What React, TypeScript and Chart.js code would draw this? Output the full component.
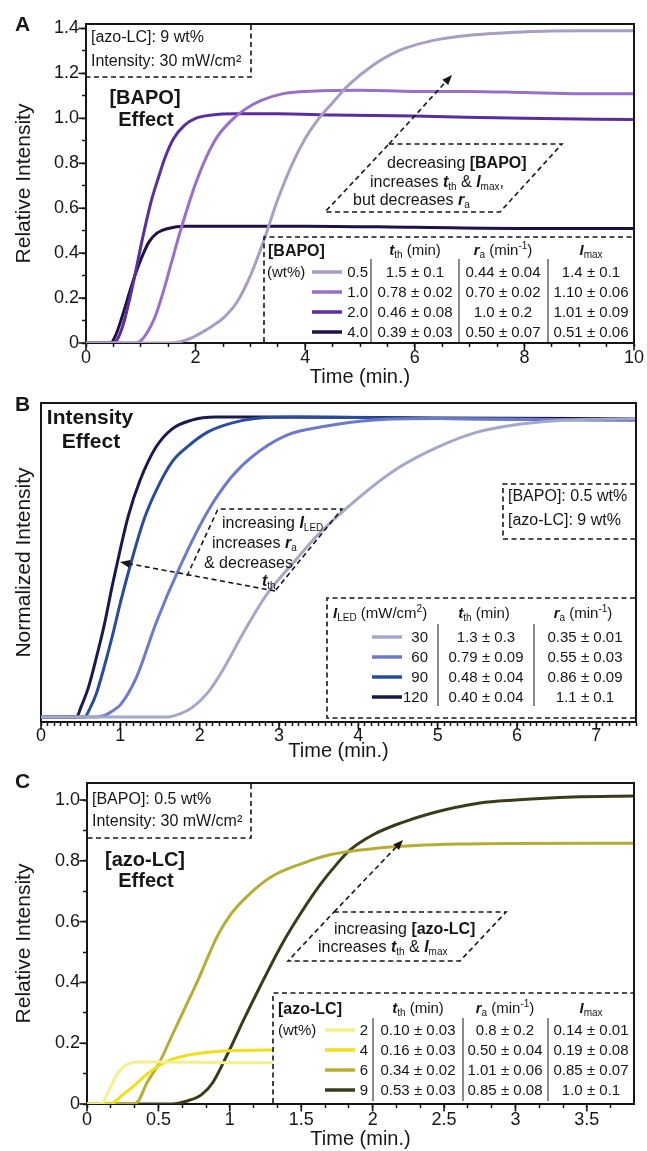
import React, { useEffect, useRef } from 'react';
import { Chart, registerables } from 'chart.js';

Chart.register(...registerables);

const FONT = '"Liberation Sans", Arial, Helvetica, sans-serif';
const INK = '#161616';

// ================= Panel A : [BAPO] effect =================
const bapoLevels = ['0.5', '1.0', '2.0', '4.0'];
const bapoColors = ['#a99dc3', '#9a6ec9', '#5a2da0', '#1f1145'];
const bapo05Time = [0, 1.5, 1.7, 1.9, 2.1, 2.3, 2.5, 2.75, 3.0, 3.25, 3.5, 3.75, 4.0, 4.25, 4.5, 4.8, 5.2, 5.7, 6.3, 7.0, 8.0, 9.0, 10.0];
const bapo05Val = [0, 0, 0.005, 0.02, 0.045, 0.075, 0.11, 0.18, 0.3, 0.46, 0.64, 0.79, 0.91, 1.0, 1.07, 1.15, 1.23, 1.3, 1.345, 1.37, 1.385, 1.39, 1.39];
const bapo10Time = [0, 0.9, 1.0, 1.1, 1.25, 1.4, 1.55, 1.7, 1.85, 2.0, 2.2, 2.4, 2.65, 2.9, 3.2, 3.6, 4.0, 5.0, 6.0, 7.0, 8.0, 9.0, 10.0];
const bapo10Val = [0, 0, 0.01, 0.04, 0.11, 0.22, 0.35, 0.48, 0.6, 0.71, 0.83, 0.92, 0.99, 1.04, 1.08, 1.11, 1.12, 1.125, 1.12, 1.12, 1.115, 1.11, 1.11];
const bapo20Time = [0, 0.5, 0.6, 0.7, 0.8, 0.9, 1.0, 1.1, 1.2, 1.3, 1.45, 1.6, 1.8, 2.0, 2.3, 2.7, 3.5, 4.5, 6.0, 8.0, 10.0];
const bapo20Val = [0, 0, 0.03, 0.1, 0.2, 0.31, 0.43, 0.54, 0.64, 0.72, 0.83, 0.91, 0.97, 1.0, 1.015, 1.02, 1.02, 1.015, 1.01, 1.0, 0.995];
const bapo40Time = [0, 0.45, 0.55, 0.65, 0.75, 0.85, 0.95, 1.05, 1.15, 1.3, 1.5, 1.8, 2.5, 4.0, 6.0, 8.0, 10.0];
const bapo40Val = [0, 0, 0.04, 0.11, 0.19, 0.27, 0.34, 0.4, 0.45, 0.49, 0.51, 0.52, 0.52, 0.52, 0.515, 0.51, 0.51];
const bapoTth = ['1.5 ± 0.1', '0.78 ± 0.02', '0.46 ± 0.08', '0.39 ± 0.03'];
const bapoRa = ['0.44 ± 0.04', '0.70 ± 0.02', '1.0 ± 0.2', '0.50 ± 0.07'];
const bapoImax = ['1.4 ± 0.1', '1.10 ± 0.06', '1.01 ± 0.09', '0.51 ± 0.06'];
const aXMajor = [0, 2, 4, 6, 8, 10];
const aXMinorStep = 0.5;
const aYMajor = [0, 0.2, 0.4, 0.6, 0.8, 1.0, 1.2, 1.4];
const aYMinorStep = 0.1;

// ================= Panel B : intensity effect =================
const ledLevels = ['30', '60', '90', '120'];
const ledColors = ['#a3a8c9', '#6b7bc9', '#2a4c9e', '#181a4f'];
const led30Time = [0, 1.6, 1.75, 1.9, 2.1, 2.3, 2.55, 2.85, 3.2, 3.5, 4.0, 4.5, 5.0, 5.5, 6.0, 6.5, 7.0, 7.5];
const led30Val = [0, 0, 0.01, 0.03, 0.08, 0.16, 0.28, 0.41, 0.52, 0.61, 0.73, 0.83, 0.9, 0.95, 0.975, 0.988, 0.993, 0.995];
const led60Time = [0, 0.7, 0.8, 0.9, 1.0, 1.2, 1.46, 1.75, 2.09, 2.4, 2.67, 3.1, 3.6, 4.2, 5.0, 6.0, 7.5];
const led60Val = [0, 0, 0.005, 0.02, 0.04, 0.13, 0.32, 0.5, 0.68, 0.8, 0.87, 0.94, 0.97, 0.99, 0.995, 0.993, 0.99];
const led90Time = [0, 0.55, 0.62, 0.7, 0.8, 0.9, 1.0, 1.12, 1.3, 1.46, 1.65, 1.84, 2.1, 2.4, 2.7, 3.2, 5.0, 7.5];
const led90Val = [0, 0, 0.03, 0.08, 0.17, 0.27, 0.38, 0.5, 0.66, 0.76, 0.85, 0.9, 0.95, 0.98, 0.995, 1.0, 0.995, 0.99];
const led120Time = [0, 0.45, 0.5, 0.6, 0.7, 0.8, 0.9, 1.0, 1.1, 1.25, 1.45, 1.65, 1.9, 2.2, 3.0, 5.0, 7.5];
const led120Val = [0, 0, 0.03, 0.1, 0.2, 0.31, 0.44, 0.56, 0.67, 0.79, 0.9, 0.96, 0.99, 1.0, 1.0, 0.997, 0.995];
const ledTth = ['1.3 ± 0.3', '0.79 ± 0.09', '0.48 ± 0.04', '0.40 ± 0.04'];
const ledRa = ['0.35 ± 0.01', '0.55 ± 0.03', '0.86 ± 0.09', '1.1 ± 0.1'];
const bXMajor = [0, 1, 2, 3, 4, 5, 6, 7];
const bXMinorStep = 1 / 12;

// ================= Panel C : [azo-LC] effect =================
const azoLevels = ['2', '4', '6', '9'];
const azoColors = ['#f4ef8f', '#efe018', '#b6ae32', '#3b3b1c'];
const azo2Time = [0, 0.1, 0.15, 0.2, 0.25, 0.3, 0.35, 0.5, 1.0, 2.0, 3.83];
const azo2Val = [0, 0, 0.04, 0.09, 0.12, 0.133, 0.138, 0.138, 0.136, 0.135, 0.135];
const azo4Time = [0, 0.17, 0.2, 0.25, 0.32, 0.4, 0.5, 0.6, 0.7, 0.85, 1.0, 1.3, 2.0, 3.83];
const azo4Val = [0, 0, 0.01, 0.03, 0.056, 0.09, 0.125, 0.148, 0.16, 0.17, 0.175, 0.178, 0.18, 0.18];
const azo6Time = [0, 0.32, 0.36, 0.42, 0.5, 0.6, 0.7, 0.77, 0.91, 1.0, 1.16, 1.3, 1.5, 1.7, 2.0, 2.3, 2.6, 3.0, 3.83];
const azo6Val = [0, 0, 0.01, 0.07, 0.13, 0.23, 0.33, 0.4, 0.55, 0.62, 0.7, 0.75, 0.79, 0.82, 0.84, 0.85, 0.855, 0.857, 0.858];
const azo9Time = [0, 0.6, 0.7, 0.8, 0.88, 1.0, 1.1, 1.21, 1.37, 1.5, 1.63, 1.75, 1.84, 2.0, 2.2, 2.4, 2.75, 3.0, 3.4, 3.83];
const azo9Val = [0, 0, 0.01, 0.03, 0.07, 0.18, 0.28, 0.385, 0.53, 0.63, 0.72, 0.79, 0.835, 0.885, 0.925, 0.955, 0.99, 1.0, 1.01, 1.013];
const azoTth = ['0.10 ± 0.03', '0.16 ± 0.03', '0.34 ± 0.02', '0.53 ± 0.03'];
const azoRa = ['0.8 ± 0.2', '0.50 ± 0.04', '1.01 ± 0.06', '0.85 ± 0.08'];
const azoImax = ['0.14 ± 0.01', '0.19 ± 0.08', '0.85 ± 0.07', '1.0 ± 0.1'];
const cXMajor = [0, 0.5, 1, 1.5, 2, 2.5, 3, 3.5];
const cXMinorStep = 1 / 6;
const cYMajor = [0, 0.2, 0.4, 0.6, 0.8, 1.0];
const cYMinorStep = 0.1;

// ================= helpers =================
type Seg = { t: string; b?: boolean; i?: boolean; sub?: boolean; sup?: boolean };
const tth: Seg[] = [{ t: 't', b: true, i: true }, { t: 'th', sub: true }];
const raS: Seg[] = [{ t: 'r', b: true, i: true }, { t: 'a', sub: true }];
const imax: Seg[] = [{ t: 'I', b: true, i: true }, { t: 'max', sub: true }];
const iled: Seg[] = [{ t: 'I', b: true, i: true }, { t: 'LED', sub: true }];

function segFont(s: Seg, size: number) {
  const sz = s.sub || s.sup ? Math.round(size * 0.64) : size;
  return `${s.i ? 'italic ' : ''}${s.b ? 'bold ' : ''}${sz}px ${FONT}`;
}
function rich(ctx: CanvasRenderingContext2D, segs: Seg[], x: number, yc: number, size: number, align = 'left') {
  let w = 0;
  for (const s of segs) { ctx.font = segFont(s, size); w += ctx.measureText(s.t).width; }
  let cx = align === 'left' ? x : align === 'center' ? x - w / 2 : x - w;
  const base = yc + size * 0.36;
  ctx.textAlign = 'left';
  ctx.textBaseline = 'alphabetic';
  ctx.fillStyle = INK;
  for (const s of segs) {
    ctx.font = segFont(s, size);
    const dy = s.sub ? size * 0.2 : s.sup ? -size * 0.42 : 0;
    ctx.fillText(s.t, cx, base + dy);
    cx += ctx.measureText(s.t).width;
  }
}
const P = (t: string): Seg[] => [{ t }];
const B = (t: string): Seg[] => [{ t, b: true }];

function dashPath(ctx: CanvasRenderingContext2D, pts: number[][], close = false) {
  ctx.save();
  ctx.setLineDash([5, 3.5]);
  ctx.lineWidth = 1.6;
  ctx.strokeStyle = INK;
  ctx.beginPath();
  pts.forEach(([x, y], i) => (i ? ctx.lineTo(x, y) : ctx.moveTo(x, y)));
  if (close) ctx.closePath();
  ctx.stroke();
  ctx.restore();
}
function dashArrow(ctx: CanvasRenderingContext2D, x1: number, y1: number, x2: number, y2: number) {
  const a = Math.atan2(y2 - y1, x2 - x1);
  const L = 10, H = 4;
  const bx = x2 - L * Math.cos(a), by = y2 - L * Math.sin(a);
  dashPath(ctx, [[x1, y1], [bx, by]]);
  ctx.save();
  ctx.fillStyle = INK;
  ctx.beginPath();
  ctx.moveTo(x2, y2);
  ctx.lineTo(bx + H * Math.sin(a), by - H * Math.cos(a));
  ctx.lineTo(bx - H * Math.sin(a), by + H * Math.cos(a));
  ctx.closePath();
  ctx.fill();
  ctx.restore();
}
function seg(ctx: CanvasRenderingContext2D, x1: number, y1: number, x2: number, y2: number, w: number, c: string) {
  ctx.save();
  ctx.strokeStyle = c;
  ctx.lineWidth = w;
  ctx.beginPath();
  ctx.moveTo(x1, y1);
  ctx.lineTo(x2, y2);
  ctx.stroke();
  ctx.restore();
}

type RowCfg = {
  rows: number[]; lineX: number[]; labelRight: number; levels: string[]; colors: string[];
  seps: number[]; sepY: number[]; cols: { x: number; vals: string[] }[];
};
function drawRows(ctx: CanvasRenderingContext2D, c: RowCfg) {
  c.rows.forEach((y, i) => {
    seg(ctx, c.lineX[0], y, c.lineX[1], y, 3.5, c.colors[i]);
    rich(ctx, P(c.levels[i]), c.labelRight, y, 15, 'right');
    c.cols.forEach((col) => rich(ctx, P(col.vals[i]), col.x, y, 15, 'center'));
  });
  c.seps.forEach((x) => seg(ctx, x, c.sepY[0], x, c.sepY[1], 1, INK));
}

function buildTicks(min: number, max: number, step: number, majors: number[]) {
  const out: any[] = [];
  for (let k = 0; ; k++) {
    const v = min + k * step;
    if (v > max + 1e-9) break;
    const mj = majors.some((m) => Math.abs(m - v) < 1e-6);
    out.push({ value: Math.round(v * 1e6) / 1e6, mj });
  }
  return out;
}
const fmtNum = (v: number) => String(Math.round(v * 100) / 100);
const fmtTenth = (v: number) => (Math.abs(v) < 1e-9 ? '0' : v.toFixed(1));

const TICK_FONT = { family: FONT, size: 18, lineHeight: 1 };

function xScale(min: number, max: number, step: number, majors: number[], height: number, titlePad: number, labelPad: number) {
  return {
    type: 'linear', min, max,
    afterBuildTicks: (s: any) => { s.ticks = buildTicks(min, max, step, majors); },
    afterFit: (s: any) => { s.height = height; },
    grid: { display: true, drawOnChartArea: false, drawTicks: true, tickLength: 4, tickWidth: 1.5, color: INK },
    border: { display: true, width: 2, color: INK },
    ticks: {
      autoSkip: false, maxRotation: 0, minRotation: 0, padding: labelPad, color: INK, font: TICK_FONT,
      callback: (v: number, i: number, ticks: any[]) => (ticks[i] && ticks[i].mj ? fmtNum(v) : ''),
    },
    title: { display: true, text: 'Time (min.)', color: INK, font: { family: FONT, size: 20 }, padding: { top: 0, bottom: titlePad } },
  };
}
function yScale(min: number, max: number, step: number, majors: number[], width: number, title: string) {
  return {
    type: 'linear', min, max,
    afterBuildTicks: (s: any) => { s.ticks = buildTicks(min, max, step, majors); },
    afterFit: (s: any) => { s.width = width; },
    grid: { display: true, drawOnChartArea: false, drawTicks: true, tickLength: 4, tickWidth: 1.5, color: INK },
    border: { display: true, width: 2, color: INK },
    ticks: {
      autoSkip: false, padding: 3, color: INK, font: TICK_FONT,
      callback: (v: number, i: number, ticks: any[]) => (ticks[i] && ticks[i].mj ? fmtTenth(v) : ''),
    },
    title: { display: true, text: title, color: INK, font: { family: FONT, size: 21 }, padding: { top: 12, bottom: 0 } },
  };
}

function datasets(list: { time: number[]; val: number[]; color: string }[]) {
  return list.map((s) => ({
    data: s.time.map((x, i) => ({ x, y: s.val[i] })),
    borderColor: s.color,
    borderWidth: 3,
    pointRadius: 0,
    fill: false,
    cubicInterpolationMode: 'monotone',
  }));
}

function framePlugin(top: number, annot: (ctx: CanvasRenderingContext2D) => void) {
  return {
    id: 'frameAnnot',
    afterDraw(chart: any) {
      const { ctx, chartArea: a } = chart;
      ctx.save();
      ctx.strokeStyle = INK;
      ctx.lineWidth = 2;
      ctx.beginPath();
      ctx.moveTo(a.left - 1, a.top);
      ctx.lineTo(a.right, a.top);
      ctx.lineTo(a.right, a.bottom + 1);
      ctx.stroke();
      ctx.lineWidth = 1.6;
      const xs = chart.scales.x;
      for (const t of xs.ticks) {
        if (!t.mj) continue;
        const px = xs.getPixelForValue(t.value);
        ctx.beginPath(); ctx.moveTo(px, a.bottom); ctx.lineTo(px, a.bottom + 7.5); ctx.stroke();
      }
      const ys = chart.scales.y;
      for (const t of ys.ticks) {
        if (!t.mj) continue;
        const py = ys.getPixelForValue(t.value);
        ctx.beginPath(); ctx.moveTo(a.left, py); ctx.lineTo(a.left - 7.5, py); ctx.stroke();
      }
      ctx.translate(0, -top);
      annot(ctx);
      ctx.restore();
    },
  };
}

function label(ctx: CanvasRenderingContext2D, t: string, x: number, y: number, font: string, align: CanvasTextAlign = 'left') {
  ctx.font = font;
  ctx.fillStyle = INK;
  ctx.textAlign = align;
  ctx.textBaseline = 'middle';
  ctx.fillText(t, x, y);
}

// ================= annotations (page coordinates) =================
function drawA(ctx: CanvasRenderingContext2D) {
  label(ctx, 'A', 15, 25, `bold 21px ${FONT}`);
  dashPath(ctx, [[251, 25], [251, 77], [87, 77]]);
  label(ctx, '[azo-LC]: 9 wt%', 91, 38, `16px ${FONT}`);
  label(ctx, 'Intensity: 30 mW/cm²', 91, 62, `16px ${FONT}`);
  label(ctx, '[BAPO]', 145, 98, `bold 20px ${FONT}`, 'center');
  label(ctx, 'Effect', 146, 120, `bold 20px ${FONT}`, 'center');
  dashPath(ctx, [[389, 144], [562, 144], [500, 212], [325, 212]], true);
  dashArrow(ctx, 389, 144, 452, 75);
  rich(ctx, [{ t: 'decreasing ' }, { t: '[BAPO]', b: true }], 387, 162, 16);
  rich(ctx, [{ t: 'increases ' }, ...tth, { t: ' & ' }, ...imax, { t: ',' }], 370, 181, 16);
  rich(ctx, [{ t: 'but decreases ' }, ...raS], 353, 199, 16);
  // table
  dashPath(ctx, [[264, 342], [264, 237], [633, 237]]);
  rich(ctx, B('[BAPO]'), 268, 250, 16);
  rich(ctx, [...tth, { t: ' (min)' }], 415, 250, 15, 'center');
  rich(ctx, [...raS, { t: ' (min' }, { t: '-1', sup: true }, { t: ')' }], 503, 250, 15, 'center');
  rich(ctx, imax, 591, 250, 15, 'center');
  rich(ctx, P('(wt%)'), 267, 272, 15);
  drawRows(ctx, {
    rows: [272, 292, 312, 332], lineX: [312, 342], labelRight: 368, levels: bapoLevels, colors: bapoColors,
    seps: [371, 459, 548], sepY: [259, 342],
    cols: [{ x: 415, vals: bapoTth }, { x: 503, vals: bapoRa }, { x: 591, vals: bapoImax }],
  });
}

function drawB(ctx: CanvasRenderingContext2D) {
  label(ctx, 'B', 15, 405, `bold 21px ${FONT}`);
  label(ctx, 'Intensity', 90, 418, `bold 21px ${FONT}`, 'center');
  label(ctx, 'Effect', 91, 442, `bold 21px ${FONT}`, 'center');
  dashPath(ctx, [[635, 484], [503, 484], [503, 539], [635, 539]]);
  label(ctx, '[BAPO]: 0.5 wt%', 508, 497, `16px ${FONT}`);
  label(ctx, '[azo-LC]: 9 wt%', 508, 521, `16px ${FONT}`);
  dashPath(ctx, [[187, 576], [218, 509], [342, 509], [275, 591]]);
  dashArrow(ctx, 275, 591, 120, 562);
  rich(ctx, [{ t: 'increasing ' }, ...iled], 222, 522, 16);
  rich(ctx, [{ t: 'increases ' }, ...raS], 212, 542, 16);
  rich(ctx, P('& decreases'), 204, 562, 16);
  rich(ctx, tth, 262, 580, 16);
  // table
  dashPath(ctx, [[635, 598], [327, 598], [327, 718], [635, 718]]);
  rich(ctx, [...iled, { t: ' (mW/cm' }, { t: '2', sup: true }, { t: ')' }], 333, 613, 15);
  rich(ctx, [...tth, { t: ' (min)' }], 484, 613, 15, 'center');
  rich(ctx, [...raS, { t: ' (min' }, { t: '-1', sup: true }, { t: ')' }], 583, 613, 15, 'center');
  drawRows(ctx, {
    rows: [637, 657, 677, 697], lineX: [372, 402], labelRight: 428, levels: ledLevels, colors: ledColors,
    seps: [438, 534], sepY: [624, 706],
    cols: [{ x: 486, vals: ledTth }, { x: 585, vals: ledRa }],
  });
}

function drawC(ctx: CanvasRenderingContext2D) {
  label(ctx, 'C', 15, 782, `bold 21px ${FONT}`);
  dashPath(ctx, [[251, 784], [251, 838], [88, 838]]);
  label(ctx, '[BAPO]: 0.5 wt%', 92, 800, `16px ${FONT}`);
  label(ctx, 'Intensity: 30 mW/cm²', 92, 822, `16px ${FONT}`);
  label(ctx, '[azo-LC]', 145, 860, `bold 20px ${FONT}`, 'center');
  label(ctx, 'Effect', 146, 881, `bold 20px ${FONT}`, 'center');
  dashPath(ctx, [[334, 912], [506, 912], [460, 961], [288, 961]], true);
  dashArrow(ctx, 334, 912, 403, 840);
  rich(ctx, [{ t: 'increasing ' }, { t: '[azo-LC]', b: true }], 334, 928, 16);
  rich(ctx, [{ t: 'increases ' }, ...tth, { t: ' & ' }, ...imax], 318, 946, 16);
  // table with white background
  ctx.save();
  ctx.fillStyle = '#ffffff';
  ctx.fillRect(273, 993, 360, 109);
  ctx.restore();
  dashPath(ctx, [[273, 1103], [273, 993], [633, 993]]);
  rich(ctx, B('[azo-LC]'), 278, 1008, 16);
  rich(ctx, [...tth, { t: ' (min)' }], 418, 1008, 15, 'center');
  rich(ctx, [...raS, { t: ' (min' }, { t: '-1', sup: true }, { t: ')' }], 505, 1008, 15, 'center');
  rich(ctx, imax, 591, 1008, 15, 'center');
  rich(ctx, P('(wt%)'), 278, 1030, 15);
  drawRows(ctx, {
    rows: [1030, 1050, 1070, 1090], lineX: [325, 355], labelRight: 368, levels: azoLevels, colors: azoColors,
    seps: [373, 463, 548], sepY: [1018, 1101],
    cols: [{ x: 418, vals: azoTth }, { x: 505, vals: azoRa }, { x: 591, vals: azoImax }],
  });
}

function baseOptions(padTop: number, padRight: number, x: any, y: any) {
  return {
    animation: false,
    responsive: false,
    maintainAspectRatio: false,
    layout: { padding: { top: padTop, right: padRight, left: 0, bottom: 0 } },
    plugins: { legend: { display: false }, tooltip: { enabled: false } },
    elements: { point: { radius: 0 } },
    scales: { x, y },
  };
}

const A_TOP = 0, A_H = 392;
const B_TOP = 392, B_H = 373;
const C_TOP = 765, C_H = 386;

function cfgA(): any {
  return {
    type: 'line',
    data: {
      datasets: datasets([
        { time: bapo05Time, val: bapo05Val, color: bapoColors[0] },
        { time: bapo10Time, val: bapo10Val, color: bapoColors[1] },
        { time: bapo20Time, val: bapo20Val, color: bapoColors[2] },
        { time: bapo40Time, val: bapo40Val, color: bapoColors[3] },
      ]),
    },
    options: baseOptions(24, 13,
      xScale(0, 10, aXMinorStep, aXMajor, A_H - 343, 3, 2),
      yScale(0, 1.42, aYMinorStep, aYMajor, 86, 'Relative Intensity')),
    plugins: [framePlugin(A_TOP, drawA)],
  };
}

function cfgB(): any {
  return {
    type: 'line',
    data: {
      datasets: datasets([
        { time: led30Time, val: led30Val, color: ledColors[0] },
        { time: led60Time, val: led60Val, color: ledColors[1] },
        { time: led90Time, val: led90Val, color: ledColors[2] },
        { time: led120Time, val: led120Val, color: ledColors[3] },
      ]),
    },
    options: baseOptions(403 - B_TOP, 11,
      xScale(0, 7.5, bXMinorStep, bXMajor, B_TOP + B_H - 722, 2, 1),
      {
        type: 'linear', min: -0.017, max: 1.047,
        afterFit: (s: any) => { s.width = 41; },
        grid: { display: false },
        ticks: { display: false },
        border: { display: true, width: 2, color: INK },
        title: { display: true, text: 'Normalized Intensity', color: INK, font: { family: FONT, size: 21 }, padding: { top: 12, bottom: 0 } },
      }),
    plugins: [framePlugin(B_TOP, drawB)],
  };
}

function cfgC(): any {
  return {
    type: 'line',
    data: {
      datasets: datasets([
        { time: azo2Time, val: azo2Val, color: azoColors[0] },
        { time: azo4Time, val: azo4Val, color: azoColors[1] },
        { time: azo6Time, val: azo6Val, color: azoColors[2] },
        { time: azo9Time, val: azo9Val, color: azoColors[3] },
      ]),
    },
    options: baseOptions(783 - C_TOP, 13,
      xScale(0, 3.83, cXMinorStep, cXMajor, C_TOP + C_H - 1104, 0, 3),
      yScale(0, 1.056, cYMinorStep, cYMajor, 87, 'Relative Intensity')),
    plugins: [framePlugin(C_TOP, drawC)],
  };
}

export default function App() {
  const ra = useRef<HTMLCanvasElement>(null);
  const rb = useRef<HTMLCanvasElement>(null);
  const rc = useRef<HTMLCanvasElement>(null);
  useEffect(() => {
    const charts = [
      new Chart(ra.current as HTMLCanvasElement, cfgA()),
      new Chart(rb.current as HTMLCanvasElement, cfgB()),
      new Chart(rc.current as HTMLCanvasElement, cfgC()),
    ];
    return () => charts.forEach((c) => c.destroy());
  }, []);
  const cs = (top: number, h: number): React.CSSProperties => ({ position: 'absolute', left: 0, top, width: 647, height: h });
  return (
    <div style={{ position: 'absolute', left: 0, top: 0, width: 647, height: 1151, background: '#fff', overflow: 'hidden' }}>
      <canvas ref={ra} width={647} height={A_H} style={cs(A_TOP, A_H)} />
      <canvas ref={rb} width={647} height={B_H} style={cs(B_TOP, B_H)} />
      <canvas ref={rc} width={647} height={C_H} style={cs(C_TOP, C_H)} />
    </div>
  );
}
